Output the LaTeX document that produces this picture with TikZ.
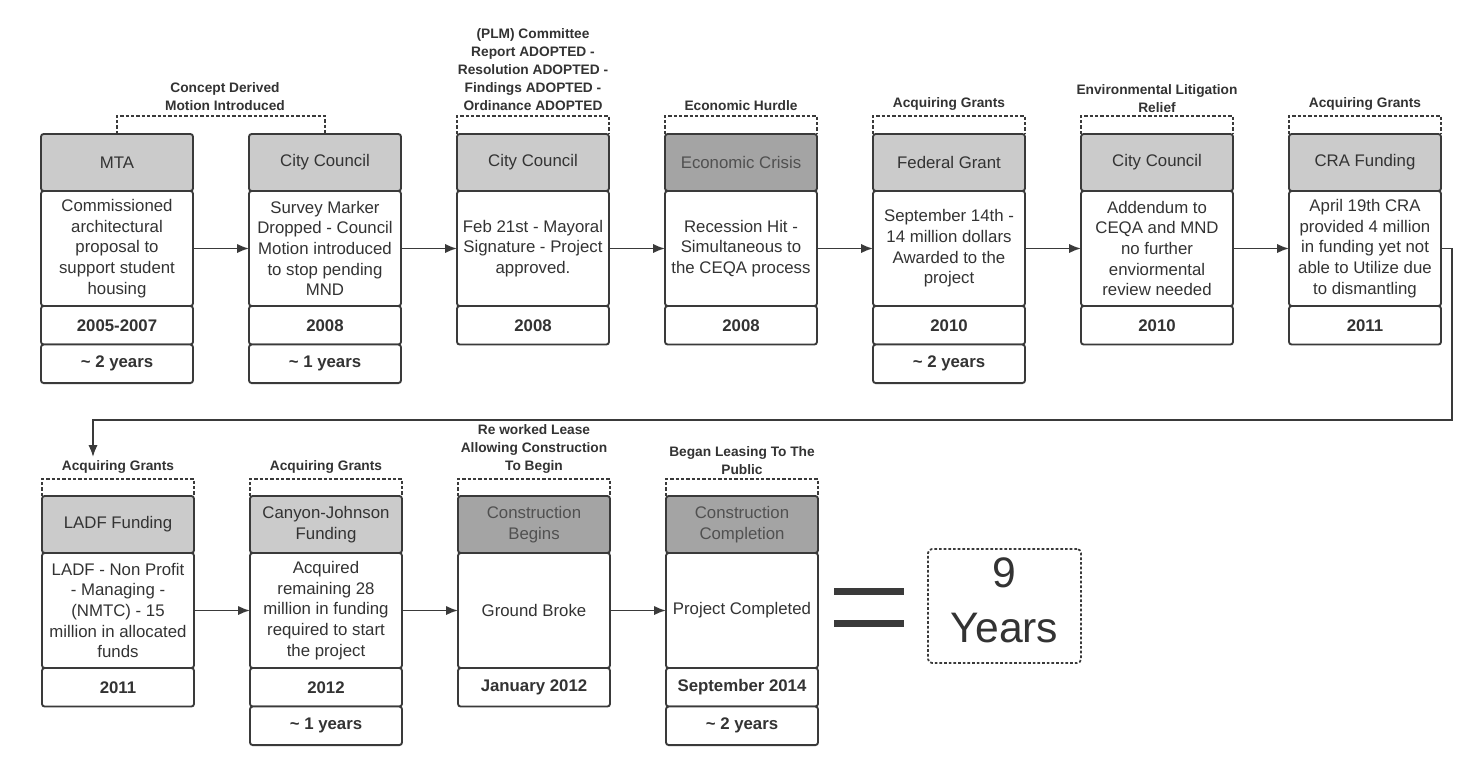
\documentclass[tikz,border=0pt]{standalone}
\usepackage{fontspec}
\setmainfont{Liberation Sans}
\usetikzlibrary{arrows.meta,calc}
\definecolor{linec}{HTML}{3A3A3A}
\definecolor{txt}{HTML}{333333}
\definecolor{hdrl}{HTML}{CBCBCB}
\definecolor{hdrd}{HTML}{A4A4A4}
\definecolor{hdrdt}{HTML}{505050}
\begin{document}
\begin{tikzpicture}[x=0.75pt,y=-0.75pt,
  box/.style={draw=linec, line width=1.4pt, rounded corners=2pt, minimum width=114pt,
    inner sep=0pt, outer sep=0pt, anchor=north west, align=center, text=txt,
    font=\fontsize{12.6}{15.5}\selectfont},
  hdr/.style={box, fill=hdrl, minimum height=42.75pt},
  hdrdark/.style={hdr, fill=hdrd, text=hdrdt},
  body/.style={box, fill=white, minimum height=86.25pt},
  yr/.style={box, fill=white, minimum height=28.9pt, font=\bfseries\fontsize{12.6}{15.5}\selectfont},
  lbl/.style={font=\bfseries\fontsize{10.3}{13.5}\selectfont, text=txt, align=center, inner sep=0pt, anchor=south},
  bracket/.style={draw=linec, line width=1.1pt, dash pattern=on 2.5pt off 1.5pt},
  conn/.style={draw=linec, line width=1.3pt, -{Latex[length=9pt,width=7pt]}}
]
\useasboundingbox[fill=white] (0,0) rectangle (1481,774);

% ---------- top row ----------
\node[hdr] (h1) at (41,134) {MTA};
\node[body] (b1) at (h1.south west) {Commissioned\\architectural\\proposal to\\support student\\housing};
\node[yr] (y1) at (b1.south west) {2005-2007};
\node[yr] (d1) at (y1.south west) {\textasciitilde{} 2 years};

\node[hdr] (h2) at (249,134) {City Council};
\node[body] (b2) at (h2.south west) {Survey Marker\\Dropped - Council\\Motion introduced\\to stop pending\\MND};
\node[yr] (y2) at (b2.south west) {2008};
\node[yr] (d2) at (y2.south west) {\textasciitilde{} 1 years};

\node[hdr] (h3) at (457,134) {City Council};
\node[body] (b3) at (h3.south west) {Feb 21st - Mayoral\\Signature - Project\\approved.};
\node[yr] (y3) at (b3.south west) {2008};

\node[hdrdark] (h4) at (665,134) {Economic Crisis};
\node[body] (b4) at (h4.south west) {Recession Hit -\\Simultaneous to\\the CEQA process};
\node[yr] (y4) at (b4.south west) {2008};

\node[hdr] (h5) at (873,134) {Federal Grant};
\node[body] (b5) at (h5.south west) {September 14th -\\14 million dollars\\Awarded to the\\project};
\node[yr] (y5) at (b5.south west) {2010};
\node[yr] (d5) at (y5.south west) {\textasciitilde{} 2 years};

\node[hdr] (h6) at (1081,134) {City Council};
\node[body] (b6) at (h6.south west) {Addendum to\\CEQA and MND\\no further\\enviormental\\review needed};
\node[yr] (y6) at (b6.south west) {2010};

\node[hdr] (h7) at (1289,134) {CRA Funding};
\node[body] (b7) at (h7.south west) {April 19th CRA\\provided 4 million\\in funding yet not\\able to Utilize due\\to dismantling};
\node[yr] (y7) at (b7.south west) {2011};

% ---------- bottom row ----------
\node[hdr] (h8) at (42,496) {LADF Funding};
\node[body] (b8) at (h8.south west) {LADF - Non Profit\\- Managing -\\(NMTC) - 15\\million in allocated\\funds};
\node[yr] (y8) at (b8.south west) {2011};

\node[hdr] (h9) at (250,496) {Canyon-Johnson\\Funding};
\node[body] (b9) at (h9.south west) {Acquired\\remaining 28\\million in funding\\required to start\\the project};
\node[yr] (y9) at (b9.south west) {2012};
\node[yr] (d9) at (y9.south west) {\textasciitilde{} 1 years};

\node[hdrdark] (h10) at (458,496) {Construction\\Begins};
\node[body] (b10) at (h10.south west) {Ground Broke};
\node[yr] (y10) at (b10.south west) {January 2012};

\node[hdrdark] (h11) at (666,496) {Construction\\Completion};
\node[body] (b11) at (h11.south west) {Project Completed};
\node[yr] (y11) at (b11.south west) {September 2014};
\node[yr] (d11) at (y11.south west) {\textasciitilde{} 2 years};

% ---------- brackets ----------
\draw[bracket] (h1.north) -- ++(0,-18) -| (h2.north);
\foreach \h in {h3,h4,h5,h6,h7}{
  \draw[bracket] (\h.north west) -- ++(0,-18) -| (\h.north east);
}
\foreach \h in {h8,h9,h10,h11}{
  \draw[bracket] (\h.north west) -- ++(0,-17) -| (\h.north east);
}

% ---------- labels ----------
\node[lbl] (l1) at (225,111) {Concept Derived\\Motion Introduced};
\node[lbl] (l3) at ($(h3.north)+(0,-23)$) {(PLM) Committee\\Report ADOPTED -\\Resolution ADOPTED -\\Findings ADOPTED -\\Ordinance ADOPTED};
\node[lbl] (l4) at ($(h4.north)+(0,-23)$) {Economic Hurdle};
\node[lbl] (l5) at ($(h5.north)+(0,-23)$) {Acquiring Grants};
\node[lbl] (l6) at ($(h6.north)+(0,-21)$) {Environmental Litigation\\Relief};
\node[lbl] (l7) at ($(h7.north)+(0,-23)$) {Acquiring Grants};
\node[lbl] (l8) at ($(h8.north)+(0,-22)$) {Acquiring Grants};
\node[lbl] (l9) at ($(h9.north)+(0,-22)$) {Acquiring Grants};
\node[lbl] (l10) at ($(h10.north)+(0,-22)$) {Re worked Lease\\Allowing Construction\\To Begin};
\node[lbl] (l11) at ($(h11.north)+(0,-21)$) {Began Leasing To The\\Public};

% ---------- connectors ----------
\draw[conn] (b1.east) -- (b2.west);
\draw[conn] (b2.east) -- (b3.west);
\draw[conn] (b3.east) -- (b4.west);
\draw[conn] (b4.east) -- (b5.west);
\draw[conn] (b5.east) -- (b6.west);
\draw[conn] (b6.east) -- (b7.west);
\coordinate (wr) at (1452,420);
\coordinate (we) at (93,457);
\draw[conn] (b7.east) -| (wr) -| (we);
\draw[conn] (b8.east) -- (b9.west);
\draw[conn] (b9.east) -- (b10.west);
\draw[conn] (b10.east) -- (b11.west);

% ---------- total ----------
\fill[linec] (834,587.5) rectangle (904,595);
\fill[linec] (834,619.5) rectangle (904,627);
\node[draw=linec, line width=1.3pt, dash pattern=on 2pt off 1.5pt, rounded corners=3pt,
  minimum width=114.75pt, minimum height=85.5pt, inner sep=0pt] (total) at (1004.5,606) {};
\node[align=center, inner sep=0pt, font=\fontsize{32}{41}\selectfont, text=txt] (totaltxt) at (1004.5,600) {9\\Years};
\end{tikzpicture}
\end{document}
